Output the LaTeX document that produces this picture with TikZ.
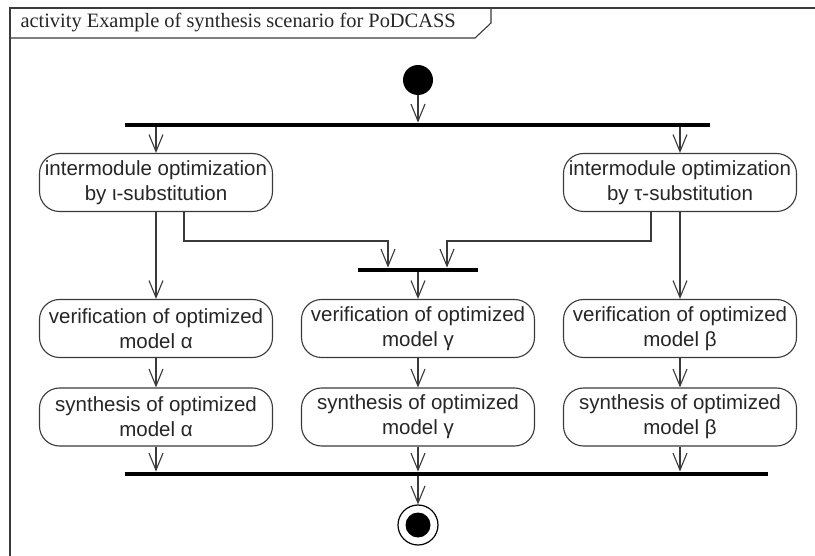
\documentclass[tikz,border=0pt]{standalone}
\usepackage{fontspec}
\setmainfont{Liberation Serif}
\newfontfamily\actfont{Liberation Sans}
\usepackage{tikz}
\usetikzlibrary{
	arrows.meta,									% 箭头样式
	positioning,									% 节点摆放
}
\definecolor{linegray}{HTML}{3A3A3A}
\tikzset{
	action/.style={draw=linegray, line width=1.1pt, rounded corners=20pt, minimum width=233pt,
		minimum height=58pt, align=center, font=\actfont\fontsize{20.5}{25}\selectfont, text=black!85, inner sep=2pt},
	bar/.style={fill=black, inner sep=0pt, minimum height=4.5pt},
	flow/.style={draw=linegray, line width=1.1pt, -{Straight Barb[length=17pt, width=14pt]}},
}

\begin{document}
\begin{tikzpicture}[x=1pt, y=-1pt]
		\useasboundingbox[fill=white] (0,0) rectangle (815,556);
		% 框架与标题
		\draw[linegray, line width=1.3pt] (815,8) -- (10,8) -- (10,556);
		\draw[linegray, line width=1.1pt] (10,38) -- (475,38) -- (491,23) -- (491,8);
		\node[anchor=west, font=\fontsize{20.4}{23}\selectfont, text=black!85] (title) at (17,23) {activity Example of synthesis scenario for PoDCASS};
		% 起点与同步条
		\node[circle, fill=black, minimum size=30pt, inner sep=0pt] (init) at (418,80) {};
		\node[bar, minimum width=585pt] (fork) at (417.5,125) {};
		\node[bar, minimum width=120pt] (join) at (418,270) {};
		\node[bar, minimum width=643pt] (merge) at (446.5,474) {};
		% 动作
		\node[action] (iopt) at (156,182.5) {intermodule optimization\\by ι-substitution};
		\node[action] (topt) at (680,182.5) {intermodule optimization\\by τ-substitution};
		\node[action] (vera) at (156,328.5) {verification of optimized\\model α};
		\node[action] (verg) at (418,328.5) {verification of optimized\\model γ};
		\node[action] (verb) at (680,328.5) {verification of optimized\\model β};
		\node[action] (syna) at (156,417) {synthesis of optimized\\model α};
		\node[action] (syng) at (418,417) {synthesis of optimized\\model γ};
		\node[action] (synb) at (680,417) {synthesis of optimized\\model β};
		% 终点
		\node[circle, draw=black, line width=1.2pt, minimum size=40pt, inner sep=0pt] (final) at (418,525) {};
		\node[circle, fill=black, minimum size=25pt, inner sep=0pt] (finaldot) at (final) {};
		% 连线
		\draw[flow] (init) -- (init |- fork.north);
		\draw[flow] (iopt |- fork.south) -- (iopt);
		\draw[flow] (topt |- fork.south) -- (topt);
		\draw[flow] (iopt) -- (vera);
		\draw[flow] (topt) -- (verb);
		\draw[flow] ([xshift=28pt]iopt.south) -- ++(0,29) -| ([xshift=-30pt]join.north);
		\draw[flow] ([xshift=-29pt]topt.south) -- ++(0,29) -| ([xshift=29pt]join.north);
		\draw[flow] (verg |- join.south) -- (verg);
		\draw[flow] (vera) -- (syna);
		\draw[flow] (verg) -- (syng);
		\draw[flow] (verb) -- (synb);
		\draw[flow] (syna) -- (syna |- merge.north);
		\draw[flow] (syng) -- (syng |- merge.north);
		\draw[flow] (synb) -- (synb |- merge.north);
		\draw[flow] (final |- merge.south) -- (final);
	\end{tikzpicture}
\end{document}
